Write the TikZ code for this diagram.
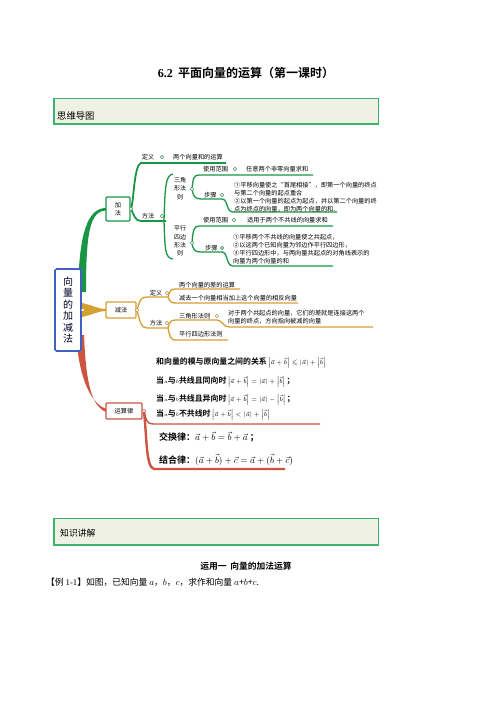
\documentclass[tikz,border=0pt]{standalone}
\usepackage{amsmath,amssymb}
\usepackage{fontspec}
\setmainfont{Noto Sans CJK SC}[BoldFont={Noto Sans CJK SC Bold}]
\newfontfamily\lserif{Liberation Serif}
\definecolor{gbr}{RGB}{24,150,70}
\definecolor{obr}{RGB}{214,160,48}
\definecolor{rbr}{RGB}{204,84,64}
\definecolor{cblue}{RGB}{64,96,196}
\definecolor{hdrline}{RGB}{60,178,110}
\definecolor{hdrfill}{RGB}{238,241,228}
\newcommand{\myfs}[1]{\fontsize{#1}{#1}\selectfont}
\tikzset{
  txt/.style={inner sep=0pt, anchor=west, font=\myfs{6.2}},
  blk/.style={inner sep=0pt, anchor=north west, align=left, font=\fontsize{6.2}{8}\selectfont},
  vblk/.style={inner sep=0pt, align=center, font=\fontsize{6}{8.4}\selectfont},
  dot/.style={circle, draw=#1, fill=white, inner sep=0pt, minimum size=3.6pt, line width=0.5pt},
  tbox/.style={draw=#1, fill=white, line width=1.1pt, rounded corners=1pt, inner sep=0pt, font=\myfs{6.2}},
  gl/.style={draw=gbr, line width=1.3pt},
  ol/.style={draw=obr, line width=1.3pt},
  rl/.style={draw=rbr, line width=1.4pt},
}
\begin{document}
\begin{tikzpicture}[x=1pt,y=-1pt]
\useasboundingbox (0,0) rectangle (496,702);
\fill[white] (0,0) rectangle (496,702);

% title
\node[inner sep=0pt, font=\bfseries\myfs{12}] (title) at (246,73) {{\lserif 6.2}\ \ 平面向量的运算（第一课时）};

% header 1
\fill[hdrfill] (53,98) rectangle (378,124);
\draw[hdrline, line width=0.8pt] (53,98) rectangle (378,124);
\draw[hdrline, line width=2pt] (53.8,98) -- (53.8,124);
\draw[hdrline, line width=1.6pt] (53,123.5) -- (378,123.5);
\node[inner sep=0pt, anchor=west, font=\myfs{9.3}] (h1) at (57,116) {思维导图};

% ===== main branches =====
% green
\fill[gbr] (86,292) .. controls (86,232) and (90,211) .. (106,210.5) -- (106,208) .. controls (88,208) and (79,232) .. (78,292) -- cycle;
% orange
\fill[obr] (82,303) .. controls (92,305) and (98,309) .. (106,309) -- (106,311) .. controls (98,311) and (92,315) .. (82,317) -- cycle;
% red
\fill[rbr] (84,335) .. controls (86,385) and (92,406) .. (106,412) -- (106,409) .. controls (96,405) and (80,390) .. (76,335) -- cycle;

% central node
\node[draw=cblue, fill=white, line width=1.6pt, rounded corners=1.5pt, minimum width=26pt, minimum height=82pt, inner sep=0pt, align=center, font=\fontsize{10}{11.5}\selectfont, text=black!85!blue] (center) at (68,310) {向\\量\\的\\加\\减\\法};
\node[dot=obr!70!gray] (cdot) at (83,310) {};

% ===== green: 加法 =====
\draw[gl, line width=1.8pt] (131,209) .. controls (134,200) and (134,165) .. (141,163) -- (226,163);
\draw[gl, line width=1.8pt] (131,209) .. controls (134,215) and (135,221) .. (141,221) -- (166,221);
\draw[gl] (164,221) .. controls (165,190) and (165,175) .. (173,174);
\draw[gl] (164,221) .. controls (165,250) and (165,258) .. (173,259);
\draw[gl] (192,189) .. controls (193,178) and (194,175) .. (199,175) -- (313,175);
\draw[gl] (192,189) .. controls (193,196) and (195,199) .. (201,199) -- (222,199) .. controls (228,199) and (226,212) .. (233,212) -- (337,212);
\draw[gl] (192,243) .. controls (193,230) and (194,226) .. (199,226) -- (333,226);
\draw[gl] (192,243) .. controls (193,250) and (195,252) .. (201,252) -- (222,252) .. controls (228,252) and (226,266) .. (233,266) -- (333,266);

\node[tbox=gbr, minimum width=24pt, minimum height=24pt, align=center, font=\fontsize{6.2}{8}\selectfont] (jia) at (118,209) {加\\法};
\node[dot=gbr!60!gray] (jiadot) at (131,209) {};

\node[txt, anchor=center] (gdy) at (148,157) {定义};
\node[dot=gbr!50!gray] (gdydot) at (162,157) {};
\node[txt] (gdyt) at (173,157) {两个向量和的运算};

\node[txt, anchor=center] (gff) at (148,216) {方法};
\node[dot=gbr!50!gray] (gffdot) at (162,216) {};

\node[vblk] (sjx) at (180,188.5) {三角\\形法\\则};
\node[dot=gbr!50!gray] (sjxdot) at (192,189) {};
\node[txt] (syfw1) at (203,169) {使用范围};
\node[dot=gbr!50!gray] (syfw1dot) at (235,169) {};
\node[txt] (syfw1t) at (246,169) {任意两个非零向量求和};
\node[txt] (bz1) at (204,195) {步骤};
\node[dot=gbr!50!gray] (bz1dot) at (222,195) {};
\node[blk] (bz1t) at (234,181.6) {①平移向量使之“首尾相接”，即第一个向量的终点\\与第二个向量的起点重合\\②以第一个向量的起点为起点，并以第二个向量的终\\点为终点的向量，即为两个向量的和．};

\node[vblk] (pxsbx) at (180,241) {平行\\四边\\形法\\则};
\node[dot=gbr!50!gray] (pxdot) at (192,243) {};
\node[txt] (syfw2) at (203,220) {使用范围};
\node[dot=gbr!50!gray] (syfw2dot) at (234,220) {};
\node[txt] (syfw2t) at (247,220) {适用于两个不共线的向量求和};
\node[txt] (bz2) at (205,248) {步骤};
\node[dot=gbr!50!gray, fill=gbr!25] (bz2dot) at (222,248) {};
\node[blk] (bz2t) at (233,233.6) {①平移两个不共线的向量使之共起点，\\②以这两个已知向量为邻边作平行四边形，\\③平行四边形中，与两向量共起点的对角线表示的\\向量为两个向量的和};

% ===== orange: 减法 =====
\draw[ol] (137,310) .. controls (140,300) and (141,297) .. (147,297) -- (168,297);
\draw[ol] (137,310) .. controls (140,322) and (141,328) .. (147,328) -- (168,328);
\draw[ol] (168,297) .. controls (170,290) and (171,289) .. (176,289) -- (240,289);
\draw[ol] (168,297) .. controls (170,302) and (171,303) .. (176,303) -- (298,303);
\draw[ol] (168,328) .. controls (170,321) and (171,320) .. (176,320) -- (217,320) .. controls (222,320) and (223,327) .. (229,327) -- (373,327);
\draw[ol] (168,328) .. controls (170,338) and (171,340) .. (176,340) -- (228,340);

\node[tbox=obr, minimum width=30pt, minimum height=16pt] (jian) at (121,310) {减法};
\node[dot=obr!60!gray] (jiandot) at (137,310) {};
\node[txt, anchor=center] (ody) at (156,293) {定义};
\node[dot=obr!50!gray] (odydot) at (167,293) {};
\node[txt] (odyt1) at (179,285) {两个向量的差的运算};
\node[txt] (odyt2) at (179,298.5) {减去一个向量相当加上这个向量的相反向量};
\node[txt, anchor=center] (off) at (156,323) {方法};
\node[dot=obr!50!gray] (offdot) at (167,323) {};
\node[txt] (osjx) at (179,316) {三角形法则};
\node[dot=obr!50!gray] (osjxdot) at (217,316) {};
\node[blk] (osjxt) at (228,309.6) {对于两个共起点的向量，它们的差就是连接这两个\\向量的终点，方向指向被减的向量};
\node[txt] (opx) at (179,334.5) {平行四边形法则};

% ===== red: 运算律 =====
\draw[rl] (144,411) .. controls (146,420) and (147,424) .. (153,424) -- (320,424);
\draw[rbr, line width=2.4pt] (144,411) .. controls (147,440) and (146,467) .. (154,469) -- (285,469);
\node[tbox=rbr, minimum width=36pt, minimum height=16pt] (yun) at (124,411) {运算律};
\node[dot=rbr!50!gray] (yundot) at (144,411) {};

\node[inner sep=0pt, anchor=west, font=\myfs{7.9}] (r1) at (156,363) {\textbf{和向量的模与原向量之间的关系}\,{\myfs{6.5}$\left|\vec a+\vec b\right|\leqslant\left|\vec a\right|+\left|\vec b\right|$}};
\node[inner sep=0pt, anchor=west, font=\myfs{7.9}] (r2) at (156,382) {\textbf{当}{\myfs{5}$a$}\textbf{与}{\myfs{5}$b$}\textbf{共线且同向时}\,{\myfs{6.5}$\left|\vec a+\vec b\right|=\left|\vec a\right|+\left|\vec b\right|$}\,\textbf{；}};
\node[inner sep=0pt, anchor=west, font=\myfs{7.9}] (r3) at (156,400) {\textbf{当}{\myfs{5}$a$}\textbf{与}{\myfs{5}$b$}\textbf{共线且异向时}\,{\myfs{6.5}$\left|\vec a+\vec b\right|=\left|\vec a\right|-\left|\vec b\right|$}\,\textbf{；}};
\node[inner sep=0pt, anchor=west, font=\myfs{7.9}] (r4) at (156,415) {\textbf{当}{\myfs{5}$a$}\textbf{与}{\myfs{5}$b$}\textbf{不共线时}\,{\myfs{6.5}$\left|\vec a+\vec b\right|<\left|\vec a\right|+\left|\vec b\right|$}};
\node[inner sep=0pt, anchor=west, font=\myfs{9}] (r5) at (159,437) {\textbf{交换律：}$\vec a+\vec b=\vec b+\vec a$\ \textbf{；}};
\node[inner sep=0pt, anchor=west, font=\myfs{9}] (r6) at (159,460) {\textbf{结合律：}$(\vec a+\vec b)+\vec c=\vec a+(\vec b+\vec c)$};

% header 2
\fill[hdrfill] (53,518) rectangle (378,545);
\draw[hdrline, line width=0.8pt] (53,518) rectangle (378,545);
\draw[hdrline, line width=2pt] (53.8,518) -- (53.8,545);
\draw[hdrline, line width=1.6pt] (53,544.5) -- (378,544.5);
\node[inner sep=0pt, anchor=west, font=\myfs{8.8}] (h2) at (60,533) {知识讲解};

% body
\node[inner sep=0pt, font=\bfseries\myfs{8.75}] (sec) at (246,566) {运用一\ \ 向量的加法运算};
\node[inner sep=0pt, anchor=west, font=\myfs{8.75}] (ex) at (46,582) {【例 {\lserif 1-1}】如图，已知向量 $a$，$b$，$c$，求作和向量 $a$+$b$+$c$.};
\end{tikzpicture}
\end{document}
